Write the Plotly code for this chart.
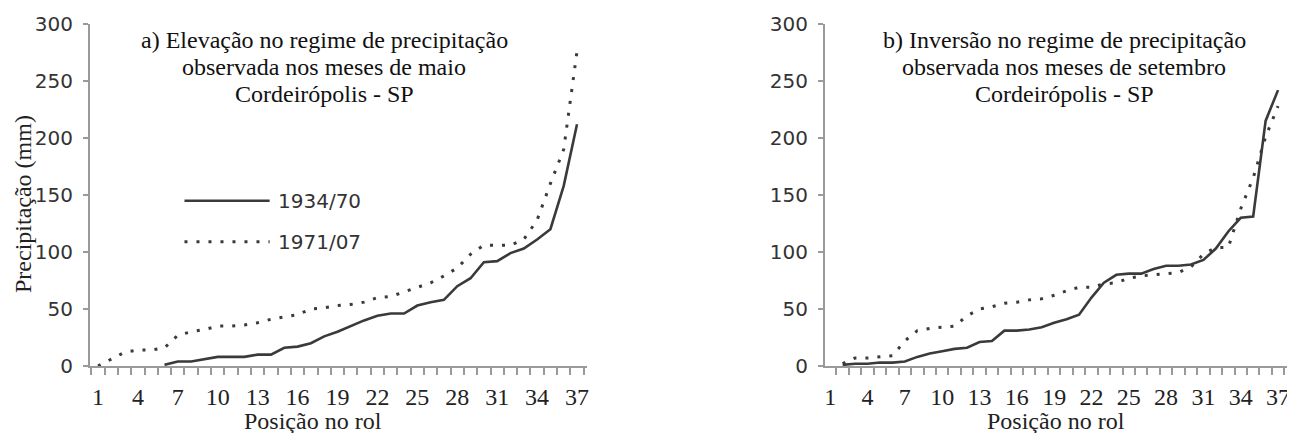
import plotly.graph_objects as go

# ---------------- data ----------------
positions = list(range(1, 38))
y_tick_values = [0, 50, 100, 150, 200, 250, 300]

series_names = ["1934/70", "1971/07"]

# a) May  (None = no value plotted)
maio_1934_70 = [None, None, None, None, None, 1, 4, 4, 6, 8, 8, 8, 10, 10, 16, 17, 20, 26, 30, 35,
                40, 44, 46, 46, 53, 56, 58, 70, 77, 91, 92, 99, 103, 111, 120, 158, 212]
maio_1971_07 = [0, 6, 12, 14, 14, 16, 27, 30, 32, 35, 35, 36, 38, 41, 43, 45, 50, 51, 53, 54,
                56, 60, 61, 65, 69, 73, 79, 86, 98, 106, 106, 106, 111, 128, 160, 190, 276]

# b) September
set_1934_70 = [None, 1, 2, 2, 3, 3, 4, 8, 11, 13, 15, 16, 21, 22, 31, 31, 32, 34, 38, 41,
               45, 60, 73, 80, 81, 81, 85, 88, 88, 89, 93, 103, 118, 130, 131, 215, 242]
set_1971_07 = [None, 2, 7, 7, 8, 9, 22, 31, 33, 34, 35, 44, 50, 52, 55, 56, 58, 59, 62, 66,
               69, 69, 72, 73, 77, 79, 80, 81, 82, 87, 98, 104, 104, 138, 165, 201, 228]

title_a = ["a) Elevação no regime de precipitação", "observada nos meses de maio", "Cordeirópolis - SP"]
title_b = ["b) Inversão no regime de precipitação", "observada nos meses de setembro", "Cordeirópolis - SP"]
x_title = "Posição no rol"
y_title = "Precipitação (mm)"

# ---------------- styling ----------------
OFF = 8                      # default page margin of the html body
W, H = 1295 - OFF, 433 - OFF
TOP, BOT = 24 - OFF, 366 - OFF   # plot area top/bottom in figure px
PH = BOT - TOP
LINE_COLOR = "#3a3a3a"
AXIS_COLOR = "#9a9a9a"
SERIF = "Liberation Serif, Times New Roman, serif"
SANS = "DejaVu Sans, Verdana, sans-serif"


def px_x(x):
    return (x - OFF) / W


def px_y(y):
    return (BOT - (y - OFF)) / PH


fig = go.Figure()


def add_panel(xa, ya, solid, dotted):
    fig.add_trace(go.Scatter(x=positions, y=solid, mode="lines", name=series_names[0],
                             line=dict(color=LINE_COLOR, width=2.6), xaxis=xa, yaxis=ya,
                             showlegend=False, connectgaps=False))
    fig.add_trace(go.Scatter(x=positions, y=dotted, mode="lines", name=series_names[1],
                             line=dict(color=LINE_COLOR, width=3, dash="3px,9px"), xaxis=xa, yaxis=ya,
                             showlegend=False, connectgaps=False))


add_panel("x", "y", maio_1934_70, maio_1971_07)
add_panel("x2", "y2", set_1934_70, set_1971_07)

xaxis_common = dict(
    showline=True, linecolor=AXIS_COLOR, linewidth=2,
    tickmode="linear", tick0=1, dtick=3, ticks="", ticklabelstandoff=8,
    ticklabeloverflow="allow",
    tickfont=dict(family=SERIF, size=24, color="#222"),
    showgrid=False, zeroline=False,
    minor=dict(ticks="outside", ticklen=7, tickwidth=1.5, tickcolor=AXIS_COLOR,
               tick0=0.5, dtick=1, showgrid=False),
)
yaxis_common = dict(
    range=[0, 300], showline=True, linecolor=AXIS_COLOR, linewidth=2,
    tickmode="array", tickvals=y_tick_values, ticks="outside", ticklen=5, tickwidth=1.5,
    tickcolor=AXIS_COLOR, tickfont=dict(family=SANS, size=20, color="#333"),
    ticklabelstandoff=6,
    showgrid=False, zeroline=False,
)

fig.update_layout(
    width=W, height=H,
    margin=dict(l=0, r=0, t=TOP, b=H - BOT, autoexpand=False),
    paper_bgcolor="white", plot_bgcolor="white",
    showlegend=False,
    xaxis=dict(domain=[px_x(90), px_x(587)], anchor="y", range=[0.4, 37.75], **xaxis_common),
    yaxis=dict(domain=[0, 1], anchor="x", **yaxis_common),
    xaxis2=dict(domain=[px_x(825), px_x(1288)], anchor="y2", range=[0.58, 37.8], **xaxis_common),
    yaxis2=dict(domain=[0, 1], anchor="x2", **yaxis_common),
)

annotations = []
# panel titles (line by line, tight spacing)
for lines, xc in ((title_a, 324), (title_b, 1064)):
    for i, txt in enumerate(lines):
        annotations.append(dict(text=txt, xref="paper", yref="paper",
                                x=px_x(xc), y=px_y(49 + 27 * i),
                                xanchor="center", yanchor="bottom", yshift=-6, showarrow=False,
                                font=dict(family=SERIF, size=24, color="#111")))
# axis titles
for xc in (313, 1056):
    annotations.append(dict(text=x_title, xref="paper", yref="paper",
                            x=px_x(xc), y=px_y(421), xanchor="center", yanchor="middle",
                            showarrow=False, font=dict(family=SERIF, size=24, color="#222")))
annotations.append(dict(text=y_title, xref="paper", yref="paper", x=px_x(23), y=px_y(204),
                        xanchor="center", yanchor="middle", textangle=-90, showarrow=False,
                        font=dict(family=SERIF, size=24, color="#222")))
# legend (left panel)
leg_y = [145, 109]
for name, yv in zip(series_names, leg_y):
    annotations.append(dict(text=name, xref="x", yref="y", x=14.4, y=yv, xanchor="left",
                            yanchor="middle", showarrow=False,
                            font=dict(family=SANS, size=20, color="#333")))
fig.update_layout(annotations=annotations)

fig.add_shape(type="line", xref="x", yref="y", x0=7.5, x1=13.9, y0=leg_y[0], y1=leg_y[0],
              line=dict(color=LINE_COLOR, width=2.6))
fig.add_shape(type="line", xref="x", yref="y", x0=7.5, x1=13.9, y0=leg_y[1], y1=leg_y[1],
              line=dict(color=LINE_COLOR, width=3, dash="3px,9px"))

fig.write_html("out.html")
